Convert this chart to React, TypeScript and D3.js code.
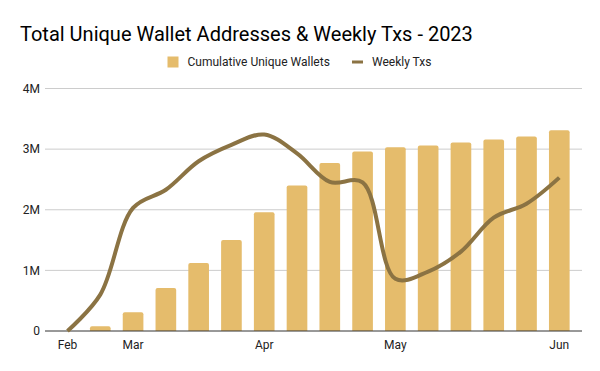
import React from "react";
import * as d3 from "d3";

const title = "Total Unique Wallet Addresses & Weekly Txs - 2023";
const xLabels = ["Feb", "", "Mar", "", "", "", "Apr", "", "", "", "May", "", "", "", "", "Jun"];
const cumulativeWallets = [0, 0.08e6, 0.31e6, 0.71e6, 1.12e6, 1.5e6, 1.96e6, 2.4e6, 2.77e6, 2.96e6, 3.03e6, 3.06e6, 3.11e6, 3.16e6, 3.21e6, 3.31e6];
const weeklyTxs = [0, 0.6e6, 2.03e6, 2.33e6, 2.8e6, 3.07e6, 3.24e6, 2.93e6, 2.46e6, 2.45e6, 0.86e6, 0.98e6, 1.31e6, 1.87e6, 2.1e6, 2.53e6];
const yTicks = [0, 1e6, 2e6, 3e6, 4e6];

const BAR = "#e5bc6c";
const LINE = "#8b7343";
const FONT = "Roboto, 'Noto Sans', sans-serif";

export default function App() {
  const W = 600, H = 371;
  const left = 45, right = 582, top = 88.5, bottom = 331;
  const idx = xLabels.map((_, i) => String(i));
  const x = d3.scalePoint<string>().domain(idx).range([67.5, 559.3]);
  const y = d3.scaleLinear().domain([0, 4e6]).range([bottom, top]);
  const bw = x.step() * 0.63;
  const line = d3
    .line<number>()
    .x((_, i) => x(String(i))!)
    .y((d) => y(d))
    .curve(d3.curveCatmullRom.alpha(0.5));
  const fmt = (v: number) => (v === 0 ? "0" : `${v / 1e6}M`);

  return (
    <svg width={W} height={H} style={{ position: "absolute", left: 0, top: 0, background: "#fff" }} fontFamily={FONT}>
      <rect width={W} height={H} fill="#fff" />
      <text x={20} y={41} fontSize={20} fill="#000">{title}</text>
      <g>
        <rect x={167.5} y={56.5} width={11} height={11} fill={BAR} />
        <text x={187.5} y={62} dy="0.35em" fontSize={12} fill="#222">Cumulative Unique Wallets</text>
        <rect x={352} y={60.5} width={11} height={3} fill={LINE} />
        <text x={372} y={62} dy="0.35em" fontSize={12} fill="#222">Weekly Txs</text>
      </g>
      {yTicks.map((t) => (
        <g key={t}>
          {t !== 0 && <line x1={left} x2={right} y1={y(t)} y2={y(t)} stroke="#cccccc" strokeWidth={1} />}
          <text x={40} y={y(t)} dy="0.35em" textAnchor="end" fontSize={12} fill="#222">{fmt(t)}</text>
        </g>
      ))}
      {cumulativeWallets.map((v, i) =>
        v > 0 ? (
          <path
            key={i}
            d={(() => {
              const x0 = x(String(i))! - bw / 2;
              const y0 = y(v);
              const h = bottom - y0;
              const r = Math.min(2, h / 2);
              return `M${x0},${bottom}V${y0 + r}Q${x0},${y0} ${x0 + r},${y0}H${x0 + bw - r}Q${x0 + bw},${y0} ${x0 + bw},${y0 + r}V${bottom}Z`;
            })()}
            fill={BAR}
          />
        ) : null
      )}
      <line x1={left} x2={right} y1={bottom} y2={bottom} stroke="#333" strokeWidth={1} />
      <path d={line(weeklyTxs)!} fill="none" stroke={LINE} strokeWidth={4} strokeLinejoin="round" />
      {xLabels.map((l, i) =>
        l ? (
          <text key={i} x={x(String(i))!} y={345} dy="0.35em" textAnchor="middle" fontSize={12} fill="#222">{l}</text>
        ) : null
      )}
    </svg>
  );
}
